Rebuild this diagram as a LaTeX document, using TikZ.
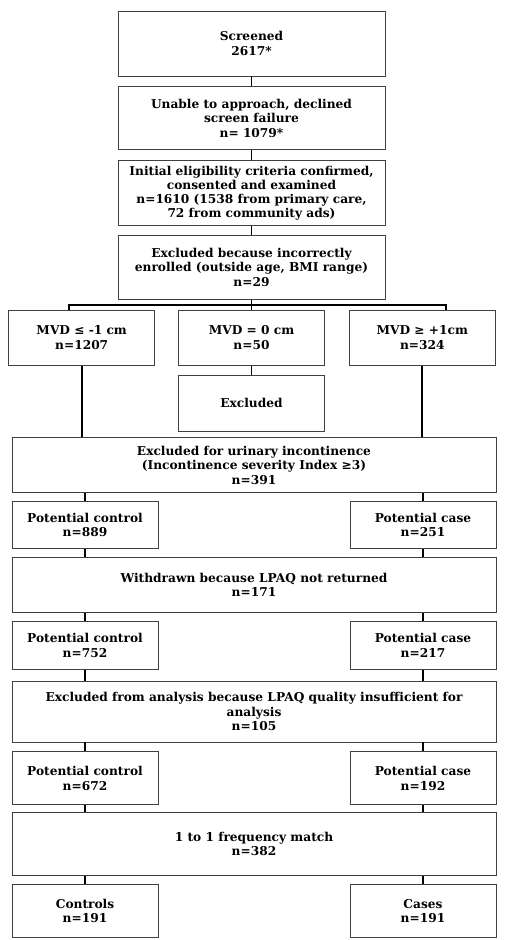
\documentclass[tikz,border=0pt]{standalone}
\usepackage{fontspec}
\setmainfont{DejaVu Serif}
\usetikzlibrary{positioning, calc}

\begin{document}
\begin{tikzpicture}[
  x=1pt, y=1pt,
  box/.style={draw=black!75, line width=0.8pt, minimum width=146pt, align=center, inner sep=2pt,
    font=\bfseries\fontsize{12.2}{14.5}\selectfont},
  head/.style={box, minimum width=267pt},
  wide/.style={box, minimum width=484pt},
  link/.style={line width=1.8pt}
]
  \useasboundingbox (0,0) rectangle (512,-940);

  % Recruitment
  \node[head, minimum height=65pt] (screened) at (251.5,-43.5) {Screened\\2617*};
  \node[head, minimum height=63pt, below=10pt of screened] (unable) {Unable to approach, declined\\screen failure\\n= 1079*};
  \node[head, minimum height=65pt, below=10pt of unable, inner sep=1pt,
    font=\bfseries\fontsize{12.2}{13.8}\selectfont] (eligible) {Initial eligibility criteria confirmed,\\consented and examined\\n=1610 (1538 from primary care,\\72 from community ads)};
  \node[head, minimum height=64pt, below=9pt of eligible] (incorr) {Excluded because incorrectly\\enrolled (outside age, BMI range)\\n=29};

  % MVD groups
  \node[box, minimum height=55pt, below=10pt of incorr] (mvdM) {MVD = 0 cm\\n=50};
  \node[box, minimum height=55pt, left=23pt of mvdM] (mvdL) {MVD ≤ -1 cm\\n=1207};
  \node[box, minimum height=55pt, right=24pt of mvdM] (mvdR) {MVD ≥ +1cm\\n=324};
  \node[box, minimum height=56pt, below=9pt of mvdM] (excl) {Excluded};

  % Exclusions and matching
  \node[wide, minimum height=55pt, below=6pt of excl, xshift=2.5pt] (urinary) {Excluded for urinary incontinence\\(Incontinence severity Index ≥3)\\n=391};
  \node[box, minimum height=47pt, below=8pt of urinary.south west, anchor=north west] (pc889) {Potential control\\n=889};
  \node[box, minimum height=47pt, below=8pt of urinary.south east, anchor=north east] (ca251) {Potential case\\n=251};
  \node[wide, minimum height=55pt, below=8pt of pc889.south west, anchor=north west] (withdrawn) {Withdrawn because LPAQ not returned\\n=171};
  \node[box, minimum height=48pt, below=8pt of withdrawn.south west, anchor=north west] (pc752) {Potential control\\n=752};
  \node[box, minimum height=48pt, below=8pt of withdrawn.south east, anchor=north east] (ca217) {Potential case\\n=217};
  \node[wide, minimum height=61pt, below=11pt of pc752.south west, anchor=north west] (analysis) {Excluded from analysis because LPAQ quality insufficient for\\analysis\\n=105};
  \node[box, minimum height=53pt, below=9pt of analysis.south west, anchor=north west] (pc672) {Potential control\\n=672};
  \node[box, minimum height=53pt, below=9pt of analysis.south east, anchor=north east] (ca192) {Potential case\\n=192};
  \node[wide, minimum height=63pt, below=7pt of pc672.south west, anchor=north west] (match) {1 to 1 frequency match\\n=382};
  \node[box, minimum height=53pt, below=8pt of match.south west, anchor=north west] (controls) {Controls\\n=191};
  \node[box, minimum height=53pt, below=8pt of match.south east, anchor=north east] (cases) {Cases\\n=191};

  % Connectors
  \draw[link] (screened) -- (unable);
  \draw[link] (unable) -- (eligible);
  \draw[link] (eligible) -- (incorr);
  \coordinate (split) at ($(incorr.south)+(0,-5pt)$);
  \draw[link] (incorr) -- (split) -- (mvdM);
  \draw[link] ([xshift=-13pt]mvdL.north) |- (split) -| ([xshift=24pt]mvdR.north);
  \draw[link] (mvdM) -- (excl);
  \draw[link] (mvdL) -- (mvdL |- urinary.north);
  \draw[link] (mvdR) -- (mvdR |- urinary.north);
  \draw[link] (urinary.south -| pc889) -- (pc889);
  \draw[link] (urinary.south -| ca251) -- (ca251);
  \draw[link] (pc889) -- (pc889 |- withdrawn.north);
  \draw[link] (ca251) -- (ca251 |- withdrawn.north);
  \draw[link] (withdrawn.south -| pc752) -- (pc752);
  \draw[link] (withdrawn.south -| ca217) -- (ca217);
  \draw[link] (pc752) -- (pc752 |- analysis.north);
  \draw[link] (ca217) -- (ca217 |- analysis.north);
  \draw[link] (analysis.south -| pc672) -- (pc672);
  \draw[link] (analysis.south -| ca192) -- (ca192);
  \draw[link] (pc672) -- (pc672 |- match.north);
  \draw[link] (ca192) -- (ca192 |- match.north);
  \draw[link] (match.south -| controls) -- (controls);
  \draw[link] (match.south -| cases) -- (cases);
\end{tikzpicture}
\end{document}
